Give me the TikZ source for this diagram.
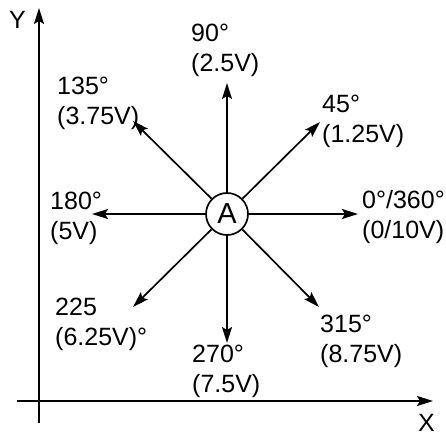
\documentclass[tikz,border=0pt]{standalone}
\usepackage{fontspec}
\setmainfont{Liberation Sans}
\usetikzlibrary{arrows.meta}
\begin{document}
\begin{tikzpicture}[x=1pt,y=-1pt,
  arr/.style={line width=1.7pt,-{Stealth[length=16pt,width=10pt,inset=3pt]}},
  lbl/.style={anchor=north west,inner sep=0pt,align=left,font=\fontsize{25}{30}\selectfont},
  ctr/.style={circle,draw,line width=1.7pt,minimum size=42pt,inner sep=0pt,font=\fontsize{29}{30}\selectfont}]
\useasboundingbox (0,0) rectangle (446,438);
% axes
\coordinate (yb) at (39,423);
\coordinate (yt) at (39,8);
\coordinate (xl) at (17,401);
\coordinate (xr) at (433,401);
\draw[arr] (yb) -- (yt);
\draw[arr] (xl) -- (xr);
\node[lbl] (Y) at (9,11) {Y};
\node[lbl] (X) at (418,414) {X};
% centre
\node[ctr] (A) at (227,214) {A};
\coordinate (tN) at (227,83);
\coordinate (tE) at (358,214);
\coordinate (tW) at (92,214);
\coordinate (tS) at (227,343);
\coordinate (tNE) at (320,122);
\coordinate (tNW) at (133,121);
\coordinate (tSW) at (133,307);
\coordinate (tSE) at (319,307);
\foreach \t in {tN,tE,tW,tS,tNE,tNW,tSW,tSE} \draw[arr] (A) -- (\t);
% labels
\node[lbl] (l90) at (191,24) {90°\\(2.5V)};
\node[lbl] (l135) at (57,77) {135°\\(3.75V)};
\node[lbl] (l45) at (322,95) {45°\\(1.25V)};
\node[lbl] (l0) at (362,190) {0°/360°\\(0/10V)};
\node[lbl] (l180) at (50,192) {180°\\(5V)};
\node[lbl] (l225) at (55,298) {225\\(6.25V)°};
\node[lbl] (l270) at (192,345) {270°\\(7.5V)};
\node[lbl] (l315) at (320,315) {315°\\(8.75V)};
\end{tikzpicture}
\end{document}
